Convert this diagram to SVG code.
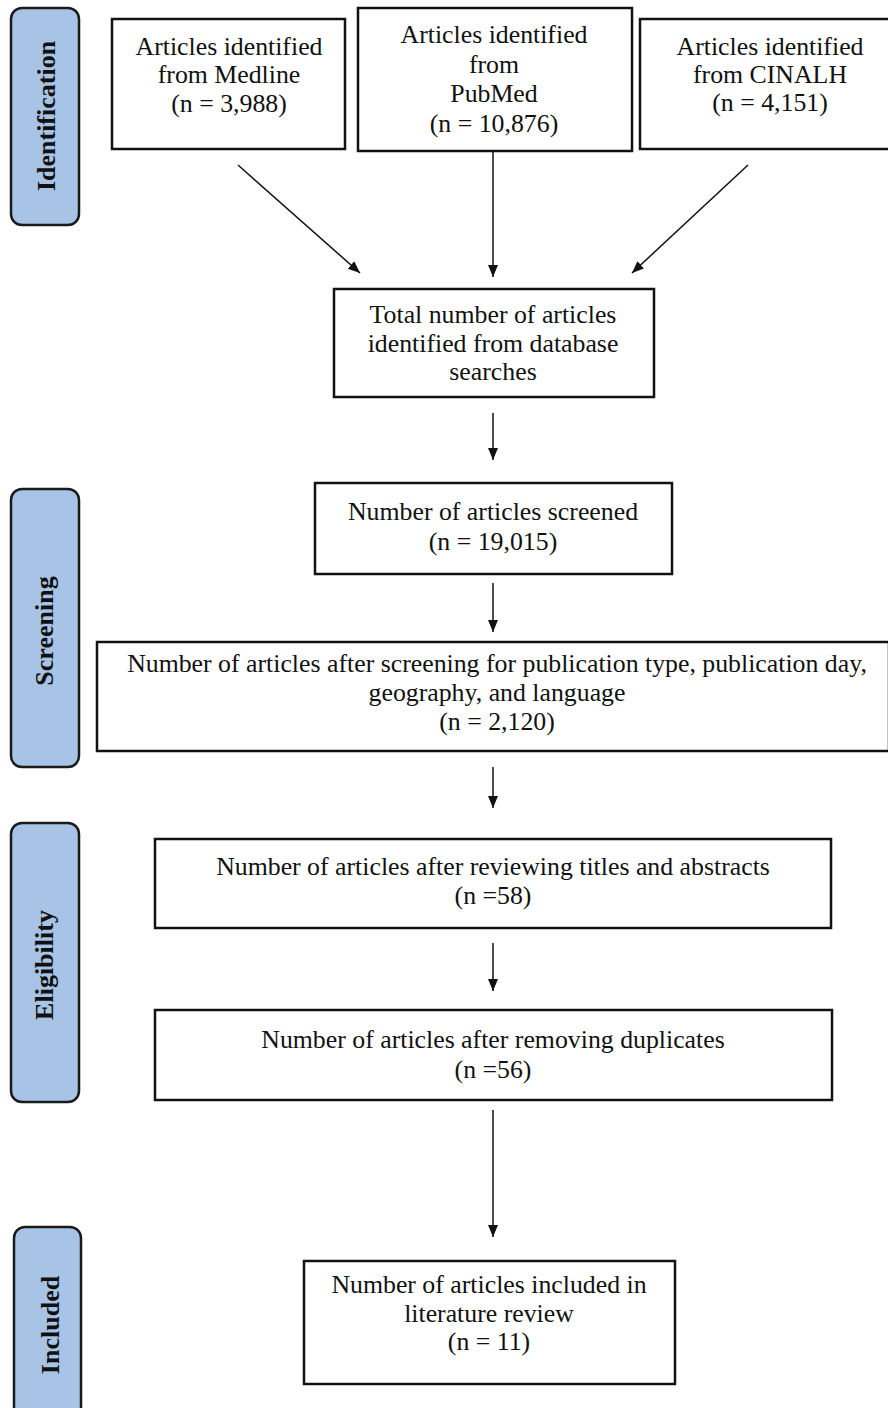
<svg xmlns="http://www.w3.org/2000/svg" width="888" height="1408" viewBox="0 0 888 1408">
<style>
.box{fill:#fff;stroke:#111;stroke-width:2.5}
.side{fill:#a7c3e6;stroke:#1a1a1a;stroke-width:2.5}
.t{font-family:"Liberation Serif","Times New Roman",serif;font-size:25.8px;fill:#111;text-anchor:middle}
.lab{font-family:"Liberation Serif","Times New Roman",serif;font-size:26px;font-weight:bold;fill:#111;text-anchor:middle}
.c{stroke:#111;stroke-width:1.5;fill:none;marker-end:url(#ah)}
</style>
<defs>
<marker id="ah" markerUnits="userSpaceOnUse" markerWidth="13" markerHeight="11" refX="12" refY="5" orient="auto">
<path d="M0,0 L12,5 L0,10 z" fill="#111"/>
</marker>
</defs>
<rect width="888" height="1408" fill="#fff"/>
<g id="phase-identification"><rect class="side" x="11" y="8" width="68" height="217" rx="11"/><text class="lab" transform="translate(55,116) rotate(-90)">Identification</text></g>
<g id="phase-screening"><rect class="side" x="11" y="489" width="68" height="278" rx="11"/><text class="lab" transform="translate(53,631) rotate(-90)">Screening</text></g>
<g id="phase-eligibility"><rect class="side" x="11" y="823" width="68" height="279" rx="11"/><text class="lab" transform="translate(53,965) rotate(-90)">Eligibility</text></g>
<g id="phase-included"><rect class="side" x="14" y="1227" width="67" height="200" rx="11"/><text class="lab" transform="translate(59,1325) rotate(-90)">Included</text></g>
<g id="medline"><rect class="box" x="112" y="19" width="233" height="130"/><text class="t" x="229" y="55">Articles identified</text><text class="t" x="229" y="83">from Medline</text><text class="t" x="229" y="112">(n = 3,988)</text></g>
<g id="pubmed"><rect class="box" x="358" y="8" width="274" height="143"/><text class="t" x="494" y="43">Articles identified</text><text class="t" x="494" y="73">from</text><text class="t" x="494" y="102">PubMed</text><text class="t" x="494" y="132">(n = 10,876)</text></g>
<g id="cinalh"><rect class="box" x="640" y="19" width="260" height="130"/><text class="t" x="770" y="55">Articles identified</text><text class="t" x="770" y="83">from CINALH</text><text class="t" x="770" y="111">(n = 4,151)</text></g>
<g id="total"><rect class="box" x="334" y="289" width="320" height="108"/><text class="t" x="493" y="323">Total number of articles</text><text class="t" x="493" y="352">identified from database</text><text class="t" x="493" y="380">searches</text></g>
<g id="screened"><rect class="box" x="315" y="483" width="357" height="91"/><text class="t" x="493" y="520">Number of articles screened</text><text class="t" x="493" y="550">(n = 19,015)</text></g>
<g id="after-screening"><rect class="box" x="97" y="642" width="792" height="109"/><text class="t" x="497" y="672">Number of articles after screening for publication type, publication day,</text><text class="t" x="497" y="701">geography, and language</text><text class="t" x="497" y="730">(n = 2,120)</text></g>
<g id="titles-abstracts"><rect class="box" x="155" y="839" width="676" height="89"/><text class="t" x="493" y="875">Number of articles after reviewing titles and abstracts</text><text class="t" x="493" y="904">(n =58)</text></g>
<g id="duplicates"><rect class="box" x="155" y="1010" width="677" height="90"/><text class="t" x="493" y="1048">Number of articles after removing duplicates</text><text class="t" x="493" y="1078">(n =56)</text></g>
<g id="included"><rect class="box" x="304" y="1261" width="371" height="123"/><text class="t" x="489" y="1293">Number of articles included in</text><text class="t" x="489" y="1322">literature review</text><text class="t" x="489" y="1350">(n = 11)</text></g>
<g id="connectors">
<line class="c" x1="238" y1="165" x2="360" y2="273"/>
<line class="c" x1="493" y1="151" x2="493" y2="277"/>
<line class="c" x1="748" y1="165" x2="632" y2="273"/>
<line class="c" x1="493" y1="413" x2="493" y2="460"/>
<line class="c" x1="493" y1="583" x2="493" y2="632"/>
<line class="c" x1="493" y1="767" x2="493" y2="808"/>
<line class="c" x1="493" y1="943" x2="493" y2="991"/>
<line class="c" x1="493" y1="1110" x2="493" y2="1237"/>
</g>
</svg>
